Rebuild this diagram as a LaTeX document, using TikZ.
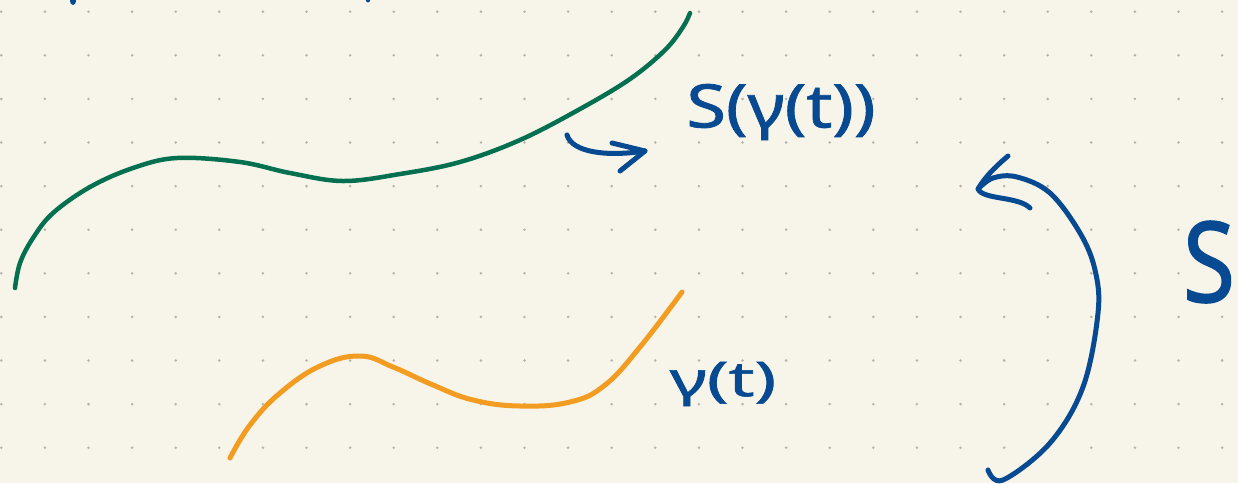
\documentclass[tikz,border=0pt]{standalone}
\usepackage{fontspec}
\setmainfont{Noto Sans}
\newfontfamily\handfont[FakeBold=1.2]{Noto Sans}
\definecolor{paper}{HTML}{F7F5EA}
\definecolor{griddot}{HTML}{B4B2AA}
\definecolor{inkgreen}{HTML}{04704F}
\definecolor{inkorange}{HTML}{F39C22}
\definecolor{inkblue}{HTML}{084A92}
\tikzset{
  greenstroke/.style={draw=inkgreen, line width=4.5pt, line cap=round, line join=round},
  orangestroke/.style={draw=inkorange, line width=5pt, line cap=round, line join=round},
  bluestroke/.style={draw=inkblue, line width=5pt, line cap=round, line join=round},
  hand/.style={text=inkblue, inner sep=0pt, anchor=center}
}
\begin{document}
\begin{tikzpicture}[x=1pt,y=-1pt]
\fill[paper] (0,0) rectangle (1238,483);
\useasboundingbox (0,0) rectangle (1238,483);
% dot grid
\foreach \i in {0,...,28}{
  \foreach \j in {0,...,10}{
    \fill[griddot] ({1.3+43.6*\i},{11.7+43.6*\j}) circle (1.4pt);
  }
}
% cut-off ink at top edge
\fill[inkblue] (73,1) ellipse (3pt and 4pt);
\fill[inkblue] (368,-1) ellipse (2.5pt and 3.5pt);
% green curve S(gamma(t))
\draw[greenstroke] plot[smooth, tension=0.6] coordinates {
  (15,288) (20,263) (33,238) (53,213) (90,187) (133,168) (177,158)
  (240,162) (290,173) (343,181) (400,174) (460,162) (520,140) (580,109)
  (630,79) (665,50) (683,27) (690,13)};
% orange curve gamma(t)
\draw[orangestroke] plot[smooth, tension=0.7] coordinates {
  (230,458) (250,425) (280,393) (320,366) (360,356) (393,367)
  (433,385) (473,400) (520,406) (570,402) (605,385) (640,347) (682,292)};
% labels
\node[hand, font=\handfont\fontsize{60}{66}\selectfont, xscale=1.2] (Sg) at (781,112) {S(γ(t))};
\node[hand, font=\handfont\fontsize{48}{54}\selectfont, xscale=1.5] (g) at (723,384) {γ(t)};
\node[hand, font=\handfont\fontsize{112}{120}\selectfont, xscale=0.85] (S) at (1209,262) {S};
% hook arrow pointing at the green curve label
\coordinate (hookstart) at (567,135);
\coordinate (hooktip) at (645,151);
\draw[bluestroke] (hookstart) .. controls (572,152) and (605,157) .. (hooktip);
\draw[bluestroke] (612,143) -- (hooktip) -- (620,171);
% big arc arrow from bottom to top
\coordinate (arcstart) at (988,470);
\coordinate (arctip) at (978,189);
\draw[bluestroke] plot[smooth, tension=0.6] coordinates {
  (arcstart) (1003,480) (1050,443) (1083,387) (1098,313) (1095,270)
  (1080,233) (1050,193) (1017,177) (993,178) (arctip)};
\draw[bluestroke] (1008,156) .. controls (995,167) and (985,177) .. (arctip)
  .. controls (983,200) and (1018,196) .. (1030,208);
\end{tikzpicture}
\end{document}
